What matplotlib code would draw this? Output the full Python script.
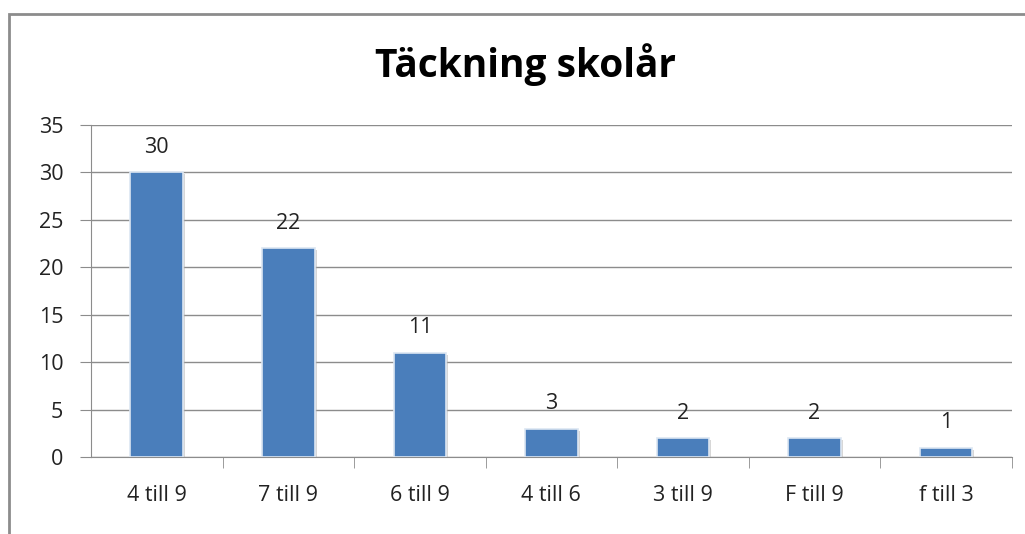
import matplotlib.pyplot as plt
from matplotlib.patches import Rectangle
import matplotlib.patheffects as pe

# data
categories = ["4 till 9", "7 till 9", "6 till 9", "4 till 6", "3 till 9", "F till 9", "f till 3"]
values = [30, 22, 11, 3, 2, 2, 1]

plt.rcParams['font.family'] = ['Open Sans', 'DejaVu Sans']

fig = plt.figure(figsize=(10.25, 5.34), dpi=100)
ax = fig.add_axes([0.0888, 0.1442, 0.8982, 0.6218])

x = range(len(categories))
bars = ax.bar(x, values, width=0.4, color="#4a7ebb", edgecolor="#dce6f2", linewidth=1.2, zorder=3)
for b in bars:
    b.set_path_effects([pe.SimplePatchShadow(offset=(1.5, -1.5), shadow_rgbFace="#b0b0b0", alpha=0.5), pe.Normal()])

for i, v in enumerate(values):
    ax.annotate(str(v), (i, v), xytext=(0, 14), textcoords="offset points",
                ha="center", va="baseline", fontsize=15.5, color="#222222")

ax.set_xlim(-0.5, len(categories) - 0.5)
ax.set_ylim(0, 35)
ax.set_yticks(range(0, 36, 5))
ax.set_xticks(x)
ax.set_xticklabels(categories)
ax.set_xticks([i + 0.5 for i in range(len(categories))], minor=True)

ax.yaxis.grid(True, color="#8c8c8c", linewidth=1, zorder=0)
ax.set_axisbelow(True)
for s in ["top", "right"]:
    ax.spines[s].set_visible(False)
ax.spines["left"].set_color("#8c8c8c")
ax.spines["bottom"].set_color("#8c8c8c")

ax.tick_params(axis="y", length=8, color="#8c8c8c", labelsize=15.5, pad=12, labelcolor="#222222")
ax.tick_params(axis="x", which="major", length=0, labelsize=15.5, pad=20, labelcolor="#222222")
ax.tick_params(axis="x", which="minor", length=8, color="#8c8c8c")

fig.text(0.513, 0.88, "Täckning skolår", ha="center", va="center", fontsize=28, fontweight="bold")

fig.patches.append(Rectangle((9 / 1025, -0.1), 1.2, 0.974 + 0.1, transform=fig.transFigure,
                             fill=False, edgecolor="#8c8c8c", linewidth=2))

fig.savefig("out.png", dpi=100)
